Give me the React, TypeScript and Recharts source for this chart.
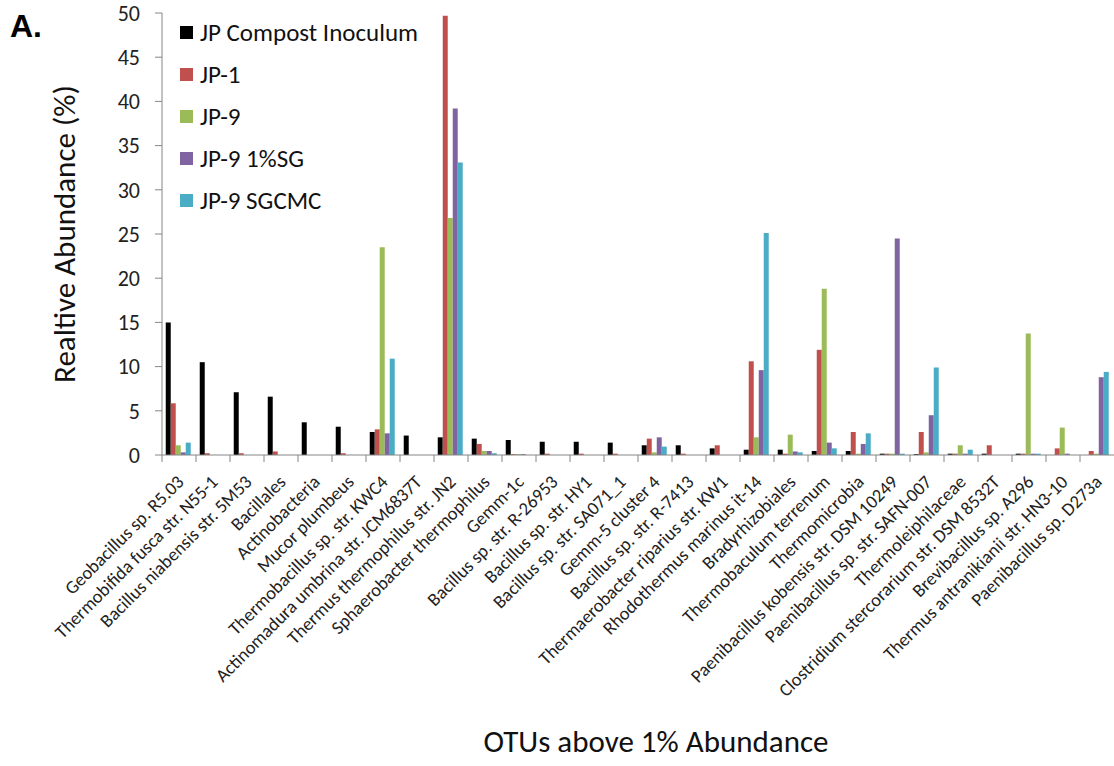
import { BarChart, Bar, XAxis, YAxis } from "recharts";

const categories = [
  "Geobacillus sp. R5.03",
  "Thermobifida fusca str. N55-1",
  "Bacillus niabensis str. 5M53",
  "Bacillales",
  "Actinobacteria",
  "Mucor plumbeus",
  "Thermobacillus sp. str. KWC4",
  "Actinomadura umbrina str. JCM6837T",
  "Thermus thermophilus  str. JN2",
  "Sphaerobacter thermophilus",
  "Gemm-1c",
  "Bacillus sp. str. R-26953",
  "Bacillus sp. str. HY1",
  "Bacillus sp. str. SA071_1",
  "Gemm-5 cluster 4",
  "Bacillus sp. str. R-7413",
  "Thermaerobacter riparius str. KW1",
  "Rhodothermus marinus it-14",
  "Bradyrhizobiales",
  "Thermobaculum terrenum",
  "Thermomicrobia",
  "Paenibacillus kobensis str. DSM 10249",
  "Paenibacillus sp. str. SAFN-007",
  "Thermoleiphilaceae",
  "Clostridium stercorarium str. DSM 8532T",
  "Brevibacillus sp. A296",
  "Thermus antranikianii str. HN3-10",
  "Paenibacillus sp. D273a",
];

const inoculum = [15.0, 10.5, 7.1, 6.6, 3.7, 3.2, 2.6, 2.2, 2.0, 1.85, 1.7, 1.5, 1.5, 1.4, 1.1, 1.1, 0.75, 0.6, 0.6, 0.45, 0.45, 0.15, 0.1, 0.15, 0.15, 0.15, 0, 0];
const jp1 = [5.85, 0.2, 0.2, 0.4, 0, 0.2, 2.9, 0, 49.7, 1.25, 0.1, 0.15, 0.15, 0.15, 1.85, 0.15, 1.1, 10.6, 0.15, 11.9, 2.6, 0.15, 2.6, 0.15, 1.1, 0.15, 0.75, 0.45];
const jp9 = [1.1, 0, 0, 0, 0, 0, 23.5, 0, 26.8, 0.45, 0.1, 0, 0, 0, 0.3, 0, 0, 2.0, 2.3, 18.8, 0.15, 0.15, 0.3, 1.1, 0, 13.75, 3.1, 0.15];
const jp9sg = [0.3, 0, 0, 0, 0, 0, 2.45, 0, 39.2, 0.45, 0.1, 0, 0, 0, 2.0, 0, 0, 9.6, 0.4, 1.4, 1.25, 24.5, 4.5, 0.15, 0, 0.15, 0.15, 8.8];
const jp9sgcmc = [1.4, 0, 0, 0, 0, 0, 10.9, 0, 33.1, 0.2, 0, 0, 0, 0, 0.95, 0, 0, 25.1, 0.3, 0.75, 2.45, 0.15, 9.9, 0.6, 0, 0.15, 0, 9.4];

const yTicks = [0, 5, 10, 15, 20, 25, 30, 35, 40, 45, 50];

const series = [
  { key: "inoculum", name: "JP Compost Inoculum", color: "#000000" },
  { key: "jp1", name: "JP-1", color: "#C0504D" },
  { key: "jp9", name: "JP-9", color: "#9BBB59" },
  { key: "jp9sg", name: "JP-9 1%SG", color: "#8064A2" },
  { key: "jp9sgcmc", name: "JP-9 SGCMC", color: "#4BACC6" },
];

const data = categories.map((name, i) => ({
  name,
  inoculum: inoculum[i],
  jp1: jp1[i],
  jp9: jp9[i],
  jp9sg: jp9sg[i],
  jp9sgcmc: jp9sgcmc[i],
}));

const FONT = "Carlito, Lato, 'Open Sans', sans-serif";
const AXIS = "#868686";

const CategoryTick = (props: any) => {
  const { x, y, payload, width, visibleTicksCount } = props;
  const band = width / visibleTicksCount;
  const left = x - band / 2;
  return (
    <g>
      <line x1={left} y1={y - 8} x2={left} y2={y - 1} stroke={AXIS} strokeWidth={1} />
      <text
        x={x + 6}
        y={y + 20}
        textAnchor="end"
        transform={`rotate(-45, ${x + 6}, ${y + 20})`}
        fontSize={18.5}
        fontFamily={FONT}
        fill="#222"
      >
        {payload.value}
      </text>
    </g>
  );
};

export default function App() {
  return (
    <div style={{ position: "absolute", left: 0, top: 0, width: 1114, height: 766, background: "#fff" }}>
      <BarChart
        width={1114}
        height={766}
        data={data}
        margin={{ top: 13, right: 0, left: 0, bottom: 0 }}
        barCategoryGap="11%"
        barGap={0}
      >
        <XAxis
          dataKey="name"
          interval={0}
          height={311}
          stroke={AXIS}
          tickLine={false}
          tick={<CategoryTick />}
          label={{
            value: "OTUs above 1% Abundance",
            position: "insideBottom",
            offset: 14,
            dx: 18,
            style: { fontSize: 31, fontFamily: FONT, fill: "#111" },
          }}
        />
        <YAxis
          width={162}
          domain={[0, 50]}
          ticks={yTicks}
          interval={0}
          stroke={AXIS}
          tickSize={7}
          tick={{ fontSize: 22, fontFamily: FONT, fill: "#222" }}
          tickMargin={15}
          label={{
            value: "Realtive Abundance (%)",
            angle: -90,
            position: "insideLeft",
            offset: 64,
            style: { fontSize: 31, fontFamily: FONT, fill: "#111", textAnchor: "middle" },
          }}
        />
        {series.map((s) => (
          <Bar key={s.key} dataKey={s.key} name={s.name} fill={s.color} isAnimationActive={false} />
        ))}
      </BarChart>
      <div
        style={{
          position: "absolute",
          left: 10,
          top: 8,
          fontFamily: "Arial, 'Liberation Sans', sans-serif",
          fontWeight: "bold",
          fontSize: 32,
        }}
      >
        A.
      </div>
      <div style={{ position: "absolute", left: 180, top: 11, fontFamily: FONT, fontSize: 25, color: "#111" }}>
        {series.map((s) => (
          <div key={s.key} style={{ display: "flex", alignItems: "center", height: 42 }}>
            <span style={{ width: 13, height: 13, background: s.color, display: "inline-block", marginRight: 7 }} />
            <span>{s.name}</span>
          </div>
        ))}
      </div>
    </div>
  );
}
